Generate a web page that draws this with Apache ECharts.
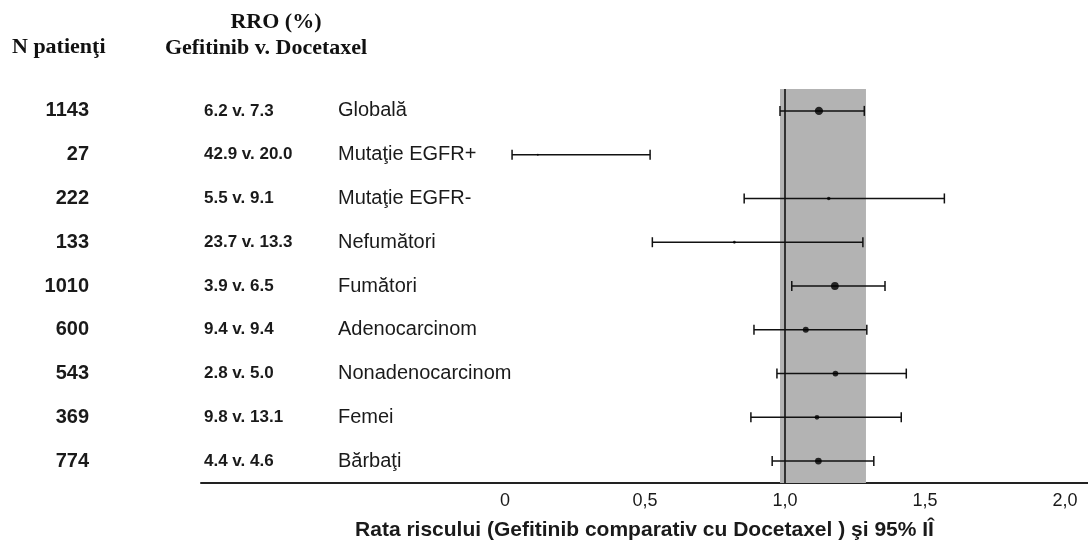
<!DOCTYPE html>
<html>
<head>
<meta charset="utf-8">
<script src="https://cdn.jsdelivr.net/npm/echarts@6/dist/echarts.min.js"></script>
<style>
  html, body { margin: 0; padding: 0; background: #ffffff; }
  #chart { width: 1088px; height: 544px; }
</style>
</head>
<body>
<div id="chart"></div>
<script>
// ---- data ----
const categories = ['Globală', 'Mutaţie EGFR+', 'Mutaţie EGFR-', 'Nefumători', 'Fumători', 'Adenocarcinom', 'Nonadenocarcinom', 'Femei', 'Bărbaţi'];
const nPatients = [1143, 27, 222, 133, 1010, 600, 543, 369, 774];
const orrText = ['6.2 v. 7.3', '42.9 v. 20.0', '5.5 v. 9.1', '23.7 v. 13.3', '3.9 v. 6.5', '9.4 v. 9.4', '2.8 v. 5.0', '9.8 v. 13.1', '4.4 v. 4.6'];
const hazardRatio = [1.121, 0.117, 1.156, 0.819, 1.178, 1.074, 1.180, 1.114, 1.119];
const ciLow = [0.982, 0.025, 0.854, 0.526, 1.024, 0.889, 0.971, 0.878, 0.954];
const ciHigh = [1.283, 0.518, 1.569, 1.278, 1.357, 1.292, 1.433, 1.415, 1.317];
const xTickValues = [0, 0.5, 1, 1.5, 2];
const overallBand = [0.982, 1.289];
const referenceValue = 1.0;
const headerN = 'N patienţi';
const headerRRO1 = 'RRO (%)';
const headerRRO2 = 'Gefitinib v. Docetaxel';
const xAxisTitle = 'Rata riscului (Gefitinib comparativ cu Docetaxel ) şi 95% IÎ';

// ---- chart ----
const chart = echarts.init(document.getElementById('chart'), null, { renderer: 'canvas' });

const whiskerData = categories.map((c, i) => [i, ciLow[i], ciHigh[i]]);
const pointData = categories.map((c, i) => [hazardRatio[i], i, nPatients[i]]);
const SANS = 'Liberation Sans, Arial, sans-serif';
const SERIF = '"Liberation Serif", "Times New Roman", serif';

function labelAxis(formatter, align, margin, style) {
  return {
    type: 'category',
    data: categories,
    inverse: true,
    position: 'left',
    axisLine: { show: false },
    axisTick: { show: false },
    splitLine: { show: false },
    axisLabel: Object.assign({ interval: 0, align: align, margin: margin, formatter: formatter }, style)
  };
}

const option = {
  backgroundColor: '#ffffff',
  animation: false,
  grid: { left: 201, right: 0, top: 89, bottom: 61, containLabel: false, outerBoundsMode: 'none' },
  xAxis: {
    type: 'value',
    min: -1.086,
    max: 2.082,
    axisLine: { show: true, lineStyle: { color: '#222', width: 2 } },
    axisTick: { show: false },
    splitLine: { show: false },
    axisLabel: {
      customValues: xTickValues,
      formatter: v => (v === 0 ? '0' : v.toFixed(1).replace('.', ',')),
      fontFamily: SANS,
      fontSize: 18,
      color: '#1a1a1a',
      margin: 9
    },
    name: xAxisTitle,
    nameLocation: 'middle',
    nameGap: 37,
    nameTextStyle: { fontFamily: SANS, fontWeight: 'bold', fontSize: 21, color: '#1a1a1a' }
  },
  yAxis: [
    labelAxis((v, i) => String(nPatients[i]), 'right', 112,
      { fontFamily: SANS, fontWeight: 'bold', fontSize: 20, color: '#1a1a1a', padding: [5, 0, 0, 0] }),
    labelAxis((v, i) => orrText[i], 'left', -3,
      { fontFamily: SANS, fontWeight: 'bold', fontSize: 17, color: '#1a1a1a', padding: [0, 0, 3, 0] }),
    labelAxis((v) => v, 'left', -137,
      { fontFamily: SANS, fontSize: 20, color: '#1a1a1a' })
  ],
  graphic: [
    { type: 'text', left: 12, top: 36, style: { text: headerN, font: 'bold 22px ' + SERIF, fill: '#111' } },
    { type: 'text', x: 276, y: 22, style: { text: headerRRO1, font: 'bold 22px ' + SERIF, fill: '#111', align: 'center', verticalAlign: 'middle' } },
    { type: 'text', x: 266, y: 48, style: { text: headerRRO2, font: 'bold 22px ' + SERIF, fill: '#111', align: 'center', verticalAlign: 'middle' } }
  ],
  series: [
    {
      type: 'custom',
      name: 'band',
      yAxisIndex: 0,
      z: 1,
      data: [],
      renderItem: () => null,
      markArea: {
        silent: true,
        itemStyle: { color: '#b3b3b3' },
        data: [[{ xAxis: overallBand[0] }, { xAxis: overallBand[1] }]]
      },
      markLine: {
        silent: true,
        symbol: 'none',
        label: { show: false },
        lineStyle: { color: '#111', width: 1.6, type: 'solid' },
        data: [{ xAxis: referenceValue }]
      }
    },
    {
      type: 'custom',
      name: 'ci',
      yAxisIndex: 0,
      z: 3,
      data: whiskerData,
      encode: { x: [1, 2], y: 0 },
      renderItem: (params, api) => {
        const yi = api.value(0);
        const lo = api.coord([api.value(1), yi]);
        const hi = api.coord([api.value(2), yi]);
        const cap = 5;
        const st = { stroke: '#111', lineWidth: 1.5 };
        return {
          type: 'group',
          children: [
            { type: 'line', shape: { x1: lo[0], y1: lo[1], x2: hi[0], y2: hi[1] }, style: st },
            { type: 'line', shape: { x1: lo[0], y1: lo[1] - cap, x2: lo[0], y2: lo[1] + cap }, style: st },
            { type: 'line', shape: { x1: hi[0], y1: hi[1] - cap, x2: hi[0], y2: hi[1] + cap }, style: st }
          ]
        };
      }
    },
    {
      type: 'scatter',
      name: 'hr',
      yAxisIndex: 0,
      z: 4,
      data: pointData,
      symbol: 'circle',
      symbolSize: v => Math.max(2, Math.sqrt(v[2]) / 4.1),
      itemStyle: { color: '#000' }
    }
  ]
};

chart.setOption(option);
</script>
</body>
</html>
